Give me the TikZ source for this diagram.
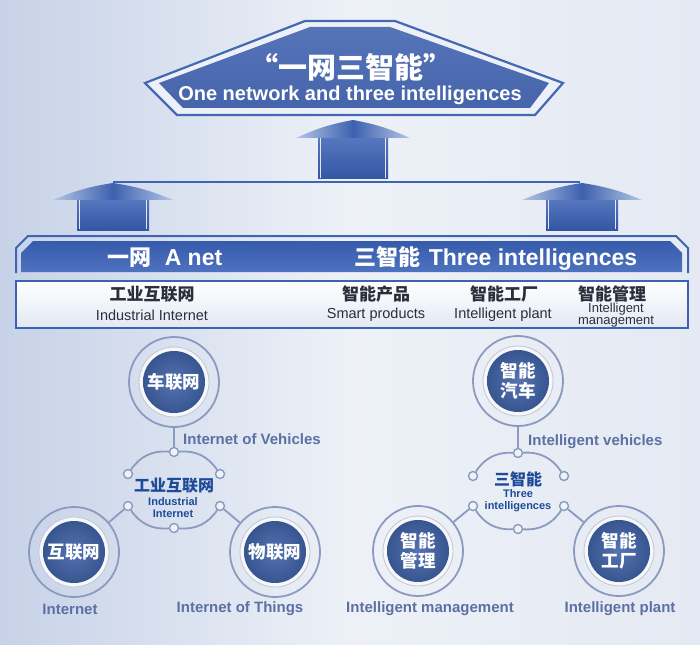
\documentclass[tikz,border=0pt]{standalone}
\usepackage{fontspec}
\setmainfont{Liberation Sans}
\newfontfamily\cjk{Noto Sans CJK SC}
\definecolor{bgl}{HTML}{C7D2E8}
\definecolor{bgm}{HTML}{EDF1F7}
\definecolor{bgr}{HTML}{E4E9F3}
\definecolor{bannerline}{HTML}{4468B3}
\definecolor{bnA}{HTML}{5574B8}
\definecolor{bnB}{HTML}{4564AB}
\definecolor{lineblue}{HTML}{3F64B2}
\definecolor{aheadA}{HTML}{3D61AE}
\definecolor{aheadB}{HTML}{B4C5E6}
\definecolor{shaftA}{HTML}{5677BF}
\definecolor{shaftB}{HTML}{3356A4}
\definecolor{bandA}{HTML}{365BAC}
\definecolor{bandB}{HTML}{4E72BE}
\definecolor{boxline}{HTML}{3C62B2}
\definecolor{boxB}{HTML}{E2E8F3}
\definecolor{ringc}{HTML}{8B9BC0}
\definecolor{haloc}{HTML}{C5C9D6}
\definecolor{halofill}{HTML}{F6F7FA}
\definecolor{corelight}{HTML}{5673B3}
\definecolor{coredark}{HTML}{37558F}
\definecolor{dotfill}{HTML}{EEF2F8}
\definecolor{lblc}{HTML}{5C70A4}
\definecolor{hubc}{HTML}{1E4B98}
\definecolor{rowtxt}{HTML}{2A2F3C}
\newcommand\uparr[6]{% cx, apexY, baseY, headHalf, shaftHalf, bottomY
  \shade[top color=shaftA,bottom color=shaftB] (#1-#5,#3) rectangle (#1+#5,#6);
  \draw[white,line width=1.6pt,opacity=.85] (#1-#5+2.5,#3) -- (#1-#5+2.5,#6-1);
  \draw[white,line width=1.6pt,opacity=.85] (#1+#5-2.5,#3) -- (#1+#5-2.5,#6-1);
  \shade[left color=aheadB,right color=aheadB,middle color=aheadA] (#1-#4,#3) to[bend left=7] (#1,#2) to[bend left=7] (#1+#4,#3) -- cycle;
}
\begin{document}
\begin{tikzpicture}[x=1pt,y=-1pt,
  ring/.style={circle,draw=ringc,line width=1.8pt,minimum size=90pt,inner sep=0pt},
  halo/.style={circle,draw=haloc,line width=0.9pt,fill=halofill,minimum size=70pt,inner sep=0pt},
  core/.style={circle,inner color=corelight,outer color=coredark,minimum size=62pt,inner sep=0pt,text=white,font=\cjk\bfseries\fontsize{17.5}{20}\selectfont,align=center},
  dot/.style={circle,draw=ringc,line width=1.4pt,fill=dotfill,minimum size=9pt,inner sep=0pt},
  link/.style={draw=ringc,line width=1.8pt},
  lbl/.style={text=lblc,font=\bfseries\fontsize{15}{17}\selectfont,inner sep=0pt},
  rowcn/.style={text=rowtxt,font=\cjk\bfseries\fontsize{17}{19}\selectfont,inner sep=0pt},
  rowen/.style={text=rowtxt,font=\fontsize{14.5}{16}\selectfont,inner sep=0pt},
  hubcn/.style={text=hubc,font=\cjk\bfseries\fontsize{16}{18}\selectfont,inner sep=0pt},
  huben/.style={text=hubc,font=\bfseries\fontsize{11}{12}\selectfont,inner sep=0pt,align=center},
]
\useasboundingbox (0,0) rectangle (700,644);
\shade[left color=bgl,right color=bgr,middle color=bgm] (0,0) rectangle (700,644);

% top banner
\draw[bannerline,line width=2.2pt,fill=bgm] (145,83) -- (305,21) -- (395,21) -- (563,83) -- (535,115) -- (177,115) -- cycle;
\shade[top color=bnA,bottom color=bnB] (159,83) -- (310,27) -- (390,27) -- (549,83) -- (530,108) -- (183,108) -- cycle;
\node[text=white,font=\cjk\bfseries\fontsize{29}{30}\selectfont,inner sep=0pt] (title) at (351,67) {“一网三智能”};
\node[text=white,font=\bfseries\fontsize{20}{22}\selectfont,inner sep=0pt] (subtitle) at (350,95) {One network and three intelligences};

% arrows
\coordinate (apL) at (113,182);
\coordinate (apR) at (580,182);
\draw[lineblue,line width=2.6pt] (apL) -- (apR);
\uparr{353}{120}{138}{57}{35}{179}
\uparr{113}{183}{200}{60}{36}{230}
\uparr{582}{183}{200}{60}{36}{230}

% blue band
\draw[lineblue,line width=2pt] (16,273) -- (16,248) -- (28,236) -- (676,236) -- (688,248) -- (688,273);
\shade[top color=bandA,bottom color=bandB] (21,272) -- (21,253) -- (33,241) -- (670,241) -- (682,253) -- (682,272) -- cycle;
\node[text=white,inner sep=0pt] (anet) at (165,258) {{\cjk\bfseries\fontsize{22}{24}\selectfont 一网}\hspace{13pt}{\bfseries\fontsize{23}{24}\selectfont A net}};
\node[text=white,inner sep=0pt] (three) at (496,258) {{\cjk\bfseries\fontsize{22}{24}\selectfont 三智能}\hspace{8pt}{\bfseries\fontsize{23}{24}\selectfont Three intelligences}};

% second row box
\shade[top color=white,bottom color=boxB] (16,281) rectangle (688,328);
\draw[boxline,line width=2.4pt] (16,281) rectangle (688,328);
\node[rowcn] (r1c) at (152,294) {工业互联网};
\node[rowen] (r1e) at (152,315) {Industrial Internet};
\node[rowcn] (r2c) at (376,294) {智能产品};
\node[rowen] (r2e) at (376,315) {Smart products};
\node[rowcn] (r3c) at (504,294) {智能工厂};
\node[rowen] (r3e) at (503,315) {Intelligent plant};
\node[rowcn] (r4c) at (612,294) {智能管理};
\node[rowen,font=\fontsize{13}{10.5}\selectfont,align=center] (r4e) at (616,315) {Intelligent\\management};

% ---------- left cluster ----------
\node[ring] (rV) at (174,382) {};
\node[halo] at (rV) {};
\node[core] (cV) at (rV) {车联网};
\node[ring] (rI) at (74,552) {};
\node[halo] at (rI) {};
\node[core] (cI) at (rI) {互联网};
\node[ring] (rT) at (275,552) {};
\node[halo] at (rT) {};
\node[core] (cT) at (rT) {物联网};

\node[dot] (lT) at (174,452) {};
\node[dot] (lB) at (174,528) {};
\node[dot] (lUL) at (128,474) {};
\node[dot] (lUR) at (220,474) {};
\node[dot] (lLL) at (128,506) {};
\node[dot] (lLR) at (220,506) {};
\draw[link] (lT) to[bend right=30] (lUL);
\draw[link] (lT) to[bend left=30] (lUR);
\draw[link] (lB) to[bend left=30] (lLL);
\draw[link] (lB) to[bend right=30] (lLR);
\draw[link] (rV) -- (lT);
\draw[link] (lLL) -- (rI);
\draw[link] (lLR) -- (rT);
\node[hubcn] (hubL) at (174,486) {工业互联网};
\node[huben] (hubLe) at (173,508) {Industrial\\Internet};

\node[lbl,anchor=west] (lV) at (183,439) {Internet of Vehicles};
\node[lbl] (lI) at (70,609) {Internet};
\node[lbl] (lTh) at (240,609) {Internet of Things};

% ---------- right cluster ----------
\node[ring] (rS) at (518,381) {};
\node[halo] at (rS) {};
\node[core] (cS) at (rS) {智能\\汽车};
\node[ring] (rM) at (418,551) {};
\node[halo] at (rM) {};
\node[core] (cM) at (rM) {智能\\管理};
\node[ring] (rF) at (619,551) {};
\node[halo] at (rF) {};
\node[core] (cF) at (rF) {智能\\工厂};

\node[dot] (sT) at (518,453) {};
\node[dot] (sB) at (518,529) {};
\node[dot] (sUL) at (473,476) {};
\node[dot] (sUR) at (564,476) {};
\node[dot] (sLL) at (473,506) {};
\node[dot] (sLR) at (564,506) {};
\draw[link] (sT) to[bend right=30] (sUL);
\draw[link] (sT) to[bend left=30] (sUR);
\draw[link] (sB) to[bend left=30] (sLL);
\draw[link] (sB) to[bend right=30] (sLR);
\draw[link] (rS) -- (sT);
\draw[link] (sLL) -- (rM);
\draw[link] (sLR) -- (rF);
\node[hubcn] (hubR) at (518,479) {三智能};
\node[huben] (hubRe) at (518,501) {Three\\intelligences};

\node[lbl,anchor=west] (lS) at (528,442) {Intelligent vehicles};
\node[lbl] (lM) at (430,609) {Intelligent management};
\node[lbl] (lF) at (620,609) {Intelligent plant};
\end{tikzpicture}
\end{document}
